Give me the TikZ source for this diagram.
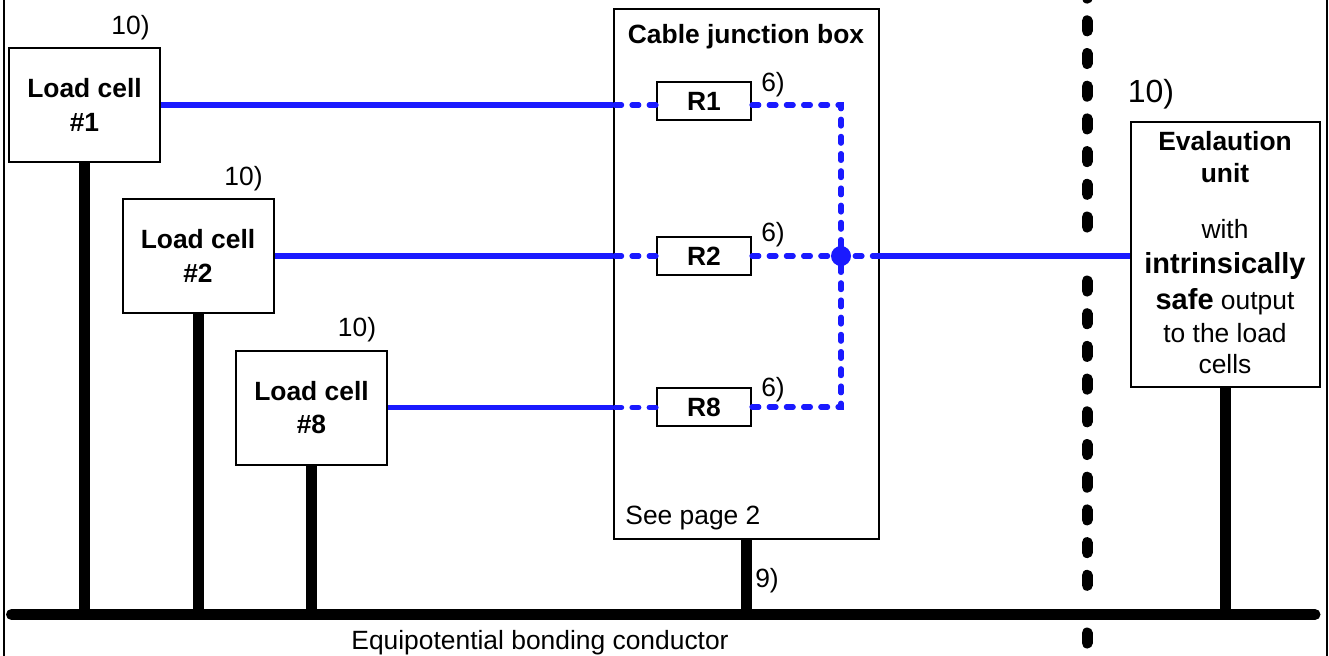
\documentclass[tikz,border=0pt]{standalone}
\usepackage{fontspec}
\setmainfont{Liberation Sans}
\usepackage{tikz}
\usetikzlibrary{positioning,calc}
\definecolor{wireblue}{RGB}{26,26,255}
\newcommand{\txt}{\fontsize{13.2}{16.3}\selectfont}
\newcommand{\bigtxt}{\fontsize{14.5}{15.5}\selectfont\bfseries}

\begin{document}
\begin{tikzpicture}[
x=0.5pt,y=-0.5pt,
box/.style={
  draw,
  line width=1pt,
  fill=white,
  inner sep=0pt,
  align=center,
  font=\txt},
cell/.style={
  box,
  font=\txt\bfseries,
  minimum width=75.5pt,
  minimum height=57pt},
res/.style={
  box,
  font=\txt\bfseries,
  minimum width=47pt,
  minimum height=18.8pt},
tag/.style={
  inner sep=0pt,
  font=\txt},
ground/.style={
  line width=5.5pt},
bus/.style={
  line width=5.5pt,
  line cap=round},
barrier/.style={
  line width=5.5pt,
  line cap=round,
  dash pattern=on 5pt off 11.35pt},
signal/.style={
  wireblue,
  line width=2.6pt},
signaldash/.style={
  signal,
  line cap=round,
  dash pattern=on 3.4pt off 5.2pt}
]
\useasboundingbox (0,0) rectangle (1329,655);
% frame and bus
\coordinate (FrameLT) at (4,-5);
\coordinate (FrameLB) at (4,660);
\coordinate (FrameRT) at (1327,-5);
\coordinate (FrameRB) at (1327,660);
\draw[line width=1pt] (FrameLT) -- (FrameLB);
\draw[line width=1pt] (FrameRT) -- (FrameRB);
\coordinate (BusL) at (11.5,614.5);
\coordinate (BusR) at (1315,614.5);
% junction box and units
\node[box,minimum width=132.5pt,minimum height=265pt] (JB) at (746.5,274) {};
\node[font=\txt\bfseries,inner sep=0pt] (JBtitle) at (746,37) {Cable junction box};
\node[tag,anchor=west] (See) at (625,518) {See page 2};
\node[cell] (LC1) at (84.5,105) {Load cell\\[0.4pt]\#1};
\node[cell] (LC2) at (198,256) {Load cell\\[0.4pt]\#2};
\node[cell] (LC8) at (311.5,407.5) {Load cell\\[0.4pt]\#8};
\node[res] (R1) at (704,101) {R1};
\node[res] (R2) at (704,256) {R2};
\node[res] (R8) at (704,407) {R8};
\node[box,minimum width=94.5pt,minimum height=132.5pt] (EU) at (1225,254.5) {};
\node[font=\txt,inner sep=0pt,align=center,anchor=north] (EUtext) at (1225,131) {%
  \textbf{Evalaution}\\[-0.5pt]
  \textbf{unit}\\[12pt]
  with\\[1pt]
  {\bigtxt intrinsically}\\[2pt]
  {\bigtxt safe} output\\
  to the load\\[-0.8pt]
  cells};
% blue wiring
\coordinate (Star) at (841,256);
\coordinate (StarT) at (Star |- LC1);
\coordinate (StarB) at (Star |- R8);
\foreach \Nodo/\Res in {LC1/R1,LC2/R2,LC8/R8}{
  \draw[signal] (\Nodo.east) -- (\Nodo -| JB.west);
  \draw[signaldash] (\Nodo -| \Res.west) -- (\Nodo -| JB.west);
}
\draw[signaldash] (R1.east |- LC1) -- (StarT) -- (Star);
\draw[signaldash] (R8.east) -- (StarB) -- (Star);
\draw[signaldash] (R2.east) -- (Star) -- (Star -| JB.east);
\draw[signal] ($(Star -| JB.east)+(-6,0)$) -- (Star -| EU.west);
\node[circle,fill=wireblue,inner sep=0pt,minimum size=10pt] (Dot) at (Star) {};
% bonding conductor
\foreach \Nodo in {LC1,LC2,LC8,JB,EU}
  \draw[ground] (\Nodo.south) -- (\Nodo |- BusL);
\draw[bus] (BusL) -- (BusR);
% barrier
\coordinate (BarA) at (1087,227);
\coordinate (BarB) at (1087,-20);
\coordinate (BarC) at (1087,281);
\coordinate (BarD) at (1087,590);
\coordinate (BarE) at (1087,633);
\coordinate (BarF) at (1087,643);
\draw[barrier] (BarA) -- (BarB);
\draw[barrier] (BarC) -- (BarD);
\draw[barrier] (BarE) -- (BarF);
% tags
\node[tag] (T1) at (130.5,28) {10)};
\node[tag] (T2) at (243.5,179) {10)};
\node[tag] (T8) at (357,330) {10)};
\node[tag,font=\fontsize{16}{16}\selectfont] (TE) at (1151,94) {10)};
\node[tag] (S1) at (773,85) {6)};
\node[tag] (S2) at (773,235) {6)};
\node[tag] (S8) at (773,390) {6)};
\node[tag] (N9) at (767,581) {9)};
\node[tag] (Bond) at (540,643) {Equipotential bonding conductor};
\end{tikzpicture}
\end{document}
